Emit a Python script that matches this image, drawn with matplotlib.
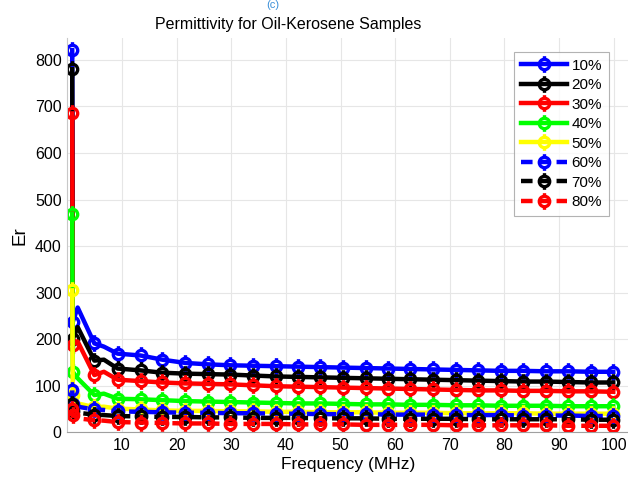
import matplotlib
matplotlib.use("Agg")
import matplotlib.pyplot as plt
from matplotlib.path import Path
import numpy as np

plt.rcParams['font.family'] = ['Liberation Sans', 'DejaVu Sans']

freq = [0.9, 1.0, 1.9, 4.95, 6.7, 9.2, 13.4, 17.4, 21.6, 25.7, 29.8, 33.9, 38.1, 42.2,
        46.3, 50.4, 54.6, 58.7, 62.8, 66.9, 71.1, 75.2, 79.3, 83.4, 87.6, 91.7, 95.8, 99.9]

er_10 = [821, 237, 268, 191, 184, 169, 165, 156, 149, 146, 144, 143, 142, 141,
         140, 139, 138, 137, 136, 135, 134, 133, 132, 132, 131, 131, 130, 130]
er_20 = [780, 200, 226, 154, 156, 137, 133, 128, 126, 125, 124, 122, 120, 119,
         118, 117, 116, 115, 114, 113, 112, 111, 110, 109, 109, 108, 107, 107]
er_30 = [685, 188, 195, 123, 130, 113, 110, 107, 105, 104, 103, 101, 99, 98,
         97, 96, 95, 94, 93, 92, 91, 90, 90, 89, 89, 88, 88, 87]
er_40 = [470, 130, 116, 80, 83, 72, 71, 69, 67, 66, 65, 64, 63, 62,
         62, 61, 60, 60, 59, 59, 58, 58, 57, 57, 57, 56, 56, 56]
er_50 = [305, 80, 62, 54, 55, 51, 49, 47, 46, 46, 45, 45, 44, 44,
         43, 43, 43, 42, 42, 42, 41, 41, 41, 41, 40, 40, 40, 40]
er_60 = [90, 60, 55, 49, 48, 45, 44, 43, 42, 42, 41, 41, 40, 40,
         39, 39, 39, 38, 38, 38, 37, 37, 37, 36, 36, 36, 35, 35]
er_70 = [60, 45, 42, 38, 37, 35, 34, 33, 33, 32, 32, 31, 31, 31,
         30, 30, 30, 29, 29, 29, 29, 28, 28, 28, 28, 28, 27, 27]
er_80 = [50, 38, 30, 26, 25, 22, 21, 20, 19, 19, 18, 18, 18, 17,
         17, 17, 16, 16, 16, 16, 15, 15, 15, 15, 15, 14, 14, 14]

labels = ['10%', '20%', '30%', '40%', '50%', '60%', '70%', '80%']
series = [er_10, er_20, er_30, er_40, er_50, er_60, er_70, er_80]
colors = ['#0000ff', '#000000', '#ff0000', '#00ff00', '#ffff00', '#0000ff', '#000000', '#ff0000']
styles = ['-', '-', '-', '-', '-', '--', '--', '--']

xticks = [10, 20, 30, 40, 50, 60, 70, 80, 90, 100]
yticks = [0, 100, 200, 300, 400, 500, 600, 700, 800]

# circle marker with short vertical stems
circ = Path.unit_circle()
verts = list(circ.vertices) + [(0, 1), (0, 1.6), (0, -1), (0, -1.6)]
codes = list(circ.codes) + [Path.MOVETO, Path.LINETO, Path.MOVETO, Path.LINETO]
mk = Path(verts, codes)

mark_idx = [i for i in range(len(freq)) if i not in (2, 4)]

fig = plt.figure(figsize=(6.28, 4.83), dpi=100)
ax = fig.add_axes([67.3 / 628, 1 - 432.3 / 483, 1 - 67.3 / 628, (432.3 - 38) / 483])

for vals, c, ls, lab in zip(series, colors, styles, labels):
    kw = dict(color=c, lw=3.2, marker=mk, markersize=12, mfc='none', mec=c, mew=2.4,
              markevery=mark_idx, label=lab)
    if ls == '--':
        ax.plot(freq, vals, linestyle=(0, (2.6, 1.4)), **kw)
    else:
        ax.plot(freq, vals, linestyle='-', **kw)

ax.set_xlim(0, 102.6)
ax.set_ylim(0, 847)
ax.set_xticks(xticks)
ax.set_yticks(yticks)
ax.tick_params(length=0, labelsize=11.5, pad=4)
ax.grid(True, color='#e6e6e6', lw=0.8)
ax.set_axisbelow(True)
for s in ['top', 'right']:
    ax.spines[s].set_visible(False)
ax.spines['left'].set_color('#c8c8c8')
ax.spines['bottom'].set_color('#a0a0a0')

ax.set_xlabel('Frequency (MHz)', fontsize=12.5, labelpad=3)
ax.set_ylabel('Er', fontsize=13.5, labelpad=5)
fig.text(288.5 / 628, 1 - 24.5 / 483, 'Permittivity for Oil-Kerosene Samples',
         ha='center', va='center', fontsize=11.5)
fig.text(272.7 / 628, 0.999, '(c)', ha='center', va='top', fontsize=8, color='#3a8fd8')

leg = ax.legend(loc='upper right', bbox_to_anchor=((609 - 67.3) / (628 - 67.3), (432.3 - 51.7) / (432.3 - 38)),
                fontsize=11, frameon=True, fancybox=False, edgecolor='#a0a0a0', numpoints=1,
                handlelength=3.0, handletextpad=0.3, labelspacing=0.36, borderpad=0.45,
                borderaxespad=0)
leg.get_frame().set_linewidth(0.8)

fig.savefig('out.png', dpi=100)
